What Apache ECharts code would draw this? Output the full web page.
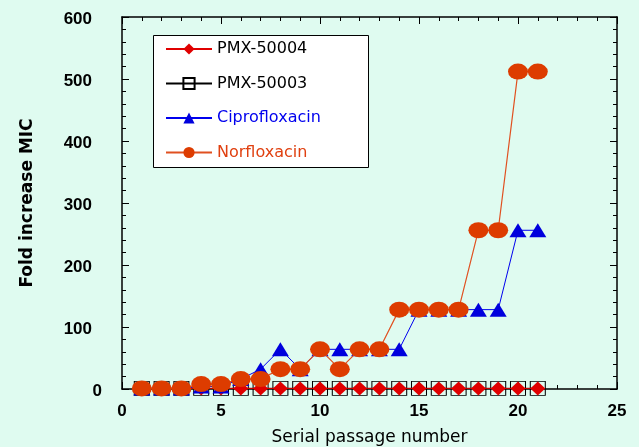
<!DOCTYPE html>
<html>
<head>
<meta charset="utf-8">
<script src="https://cdn.jsdelivr.net/npm/echarts@6/dist/echarts.min.js"></script>
<style>
html,body{margin:0;padding:0;background:#dffbf0;}
#c{width:639px;height:447px;}
</style>
</head>
<body>
<div id="c"></div>
<script>
// ---- data ----
var passages = [1,2,3,4,5,6,7,8,9,10,11,12,13,14,15,16,17,18,19,20,21];
var pmx50004 = [1,1,1,1,1,1,1,1,1,1,1,1,1,1,1,1,1,1,1,1,1];
var pmx50003 = [1,1,1,1,1,1,1,1,1,1,1,1,1,1,1,1,1,1,1,1,1];
var ciprofloxacin = [1,1,1,4,4,16,32,64,32,64,64,64,64,64,128,128,128,128,128,256,256];
var norfloxacin = [1,1,1,8,8,16,16,32,32,64,32,64,64,128,128,128,128,256,256,512,512];
var seriesNames = ['PMX-50004','PMX-50003','Ciprofloxacin','Norfloxacin'];
var xTicks = [0,5,10,15,20,25];
var yTicks = [0,100,200,300,400,500,600];

function pairs(vals){ return passages.map(function(p,i){ return [p, vals[i]]; }); }

var chart = echarts.init(document.getElementById('c'), null, {renderer:'canvas'});
var labelFont = {fontFamily:'Liberation Sans', fontWeight:'bold', fontSize:17, color:'#000'};
var axisLine = {show:true, onZero:false, lineStyle:{color:'#000', width:1.5}};
var tick = {show:true, inside:true, length:7, lineStyle:{color:'#000', width:1}};
var minor = {show:true, splitNumber:5, length:4, lineStyle:{color:'#000', width:1}};

chart.setOption({
  backgroundColor:'#dffbf0',
  animation:false,
  grid:{left:122, right:22, top:17, bottom:58, containLabel:false, outerBoundsMode:'none'},
  graphic:[{type:'rect', left:153, top:35, z:5, shape:{width:215, height:132},
    style:{fill:'#fff', stroke:'#000', lineWidth:1}}],
  legend:{
    orient:'vertical', left:154, top:36, z:10,
    padding:[5,5,5,11], itemWidth:46, itemHeight:14, itemGap:18.5,
    textStyle:{fontFamily:'DejaVu Sans', fontSize:16, lineHeight:16},
    data:[
      {name:seriesNames[0], textStyle:{color:'#000'}},
      {name:seriesNames[1], textStyle:{color:'#000'}},
      {name:seriesNames[2], textStyle:{color:'#0000ee'}},
      {name:seriesNames[3], textStyle:{color:'#e04010'}}
    ]
  },
  xAxis:[{
    type:'value', min:0, max:25, interval:5,
    name:'Serial passage number', nameLocation:'middle', nameGap:40,
    nameTextStyle:{fontFamily:'DejaVu Sans', fontSize:17, color:'#000'},
    axisLine:axisLine, axisTick:tick, minorTick:minor, splitLine:{show:false},
    axisLabel:Object.assign({margin:14, formatter:function(v){return xTicks.indexOf(v)>=0?String(v):'';}}, labelFont)
  },{
    type:'value', position:'top', min:0, max:25, interval:5,
    axisLine:axisLine, axisTick:tick, minorTick:minor, splitLine:{show:false},
    axisLabel:{show:false}
  }],
  yAxis:[{
    type:'value', min:0, max:600, interval:100,
    name:'Fold increase MIC', nameLocation:'middle', nameGap:86,
    nameTextStyle:{fontFamily:'DejaVu Sans', fontWeight:'bold', fontSize:17, color:'#000'},
    axisLine:axisLine, axisTick:tick, minorTick:minor, splitLine:{show:false},
    axisLabel:Object.assign({margin:30, padding:[5,0,0,0],
      formatter:function(v){ if(yTicks.indexOf(v)<0) return ''; return v===0 ? '{z|0}' : String(v); },
      rich:{z:{fontFamily:'Liberation Sans', fontWeight:'bold', fontSize:17, color:'#000', padding:[0,-10,0,0]}}
    }, labelFont)
  },{
    type:'value', position:'right', min:0, max:600, interval:100,
    axisLine:axisLine, axisTick:tick, minorTick:minor, splitLine:{show:false},
    axisLabel:{show:false}
  }],
  series:[
    {name:seriesNames[0], type:'line', data:pairs(pmx50004), symbol:'diamond', symbolSize:[15,14],
      itemStyle:{color:'#e00000'}, lineStyle:{color:'#e00000', width:1}, z:3},
    {name:seriesNames[1], type:'line', data:pairs(pmx50003), symbol:'rect', symbolSize:[15,14],
      itemStyle:{color:'rgba(0,0,0,0)', borderColor:'#000', borderWidth:1}, lineStyle:{color:'#000', width:1}, z:2},
    {name:seriesNames[2], type:'line', data:pairs(ciprofloxacin), symbol:'triangle', symbolSize:[17,14],
      itemStyle:{color:'#0000dd'}, lineStyle:{color:'#0000ee', width:1}, z:4},
    {name:seriesNames[3], type:'line', data:pairs(norfloxacin), symbol:'circle', symbolSize:[20,16],
      itemStyle:{color:'#dd3c00'}, lineStyle:{color:'#e05020', width:1.2}, z:5}
  ]
});
</script>
</body>
</html>
